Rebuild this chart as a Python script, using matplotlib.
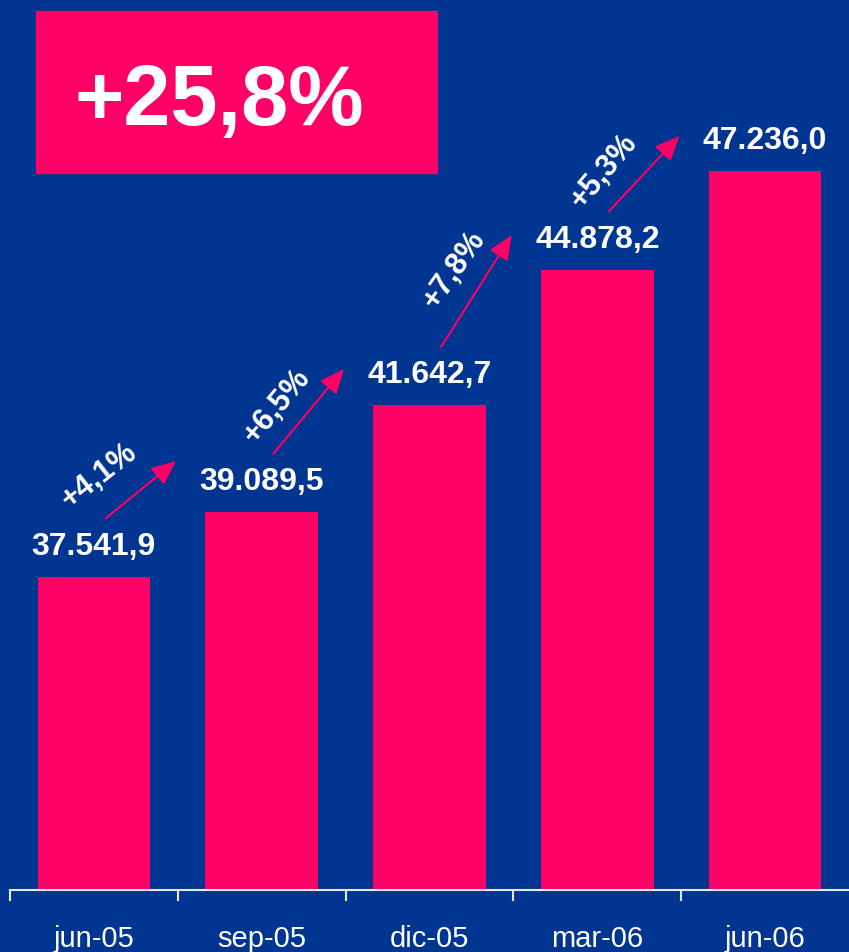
import matplotlib.pyplot as plt
from matplotlib.patches import Rectangle

# data
periods = ['jun-05', 'sep-05', 'dic-05', 'mar-06', 'jun-06']
values = [37541.9, 39089.5, 41642.7, 44878.2, 47236.0]
value_labels = ['37.541,9', '39.089,5', '41.642,7', '44.878,2', '47.236,0']
growth_labels = ['+4,1%', '+6,5%', '+7,8%', '+5,3%']
total_growth = '+25,8%'

bg = '#003591'
pink = '#ff0066'

plt.rcParams['font.family'] = ['Liberation Sans', 'DejaVu Sans']

fig = plt.figure(figsize=(8.49, 9.52), dpi=100, facecolor=bg)
ax = fig.add_axes([10 / 849, 62 / 952, 839 / 849, 890 / 952])
ax.set_facecolor(bg)

x = range(len(values))
ax.bar(x, values, width=0.67, color=pink, zorder=2)
ax.set_xlim(-0.5, 4.5)
ax.set_ylim(30070, 51320)

for i, (v, lab) in enumerate(zip(values, value_labels)):
    ax.annotate(lab, (i, v), xytext=(0, 11), textcoords='offset points',
                ha='center', va='bottom', color='white', fontsize=23,
                fontweight='bold')

# growth arrows between bars
tip_off = [1225, 870, 830, 840]
label_off = [(-30, 10), (-23, 4), (-16, 15), (-29, 2)]
label_rot = [38, 50, 55, 50]
for i, g in enumerate(growth_labels):
    x0, y0 = i + 0.07, values[i] + 1400
    x1, y1 = i + 0.49, values[i + 1] + tip_off[i]
    ax.annotate('', xy=(x1, y1), xytext=(x0, y0),
                arrowprops=dict(arrowstyle='-|>,head_length=1.5,head_width=0.65',
                                color=pink, lw=1.5, shrinkA=0, shrinkB=0))
    ax.annotate(g, ((x0 + x1) / 2, (y0 + y1) / 2), xytext=label_off[i],
                textcoords='offset points', ha='center', va='center',
                rotation=label_rot[i], rotation_mode='anchor',
                color='white', fontsize=22, fontweight='bold')

for s in ['top', 'right', 'left']:
    ax.spines[s].set_visible(False)
ax.spines['bottom'].set_color('#e8e8e8')
ax.spines['bottom'].set_linewidth(1.5)
ax.set_yticks([])
ax.set_xticks(list(x))
ax.set_xticklabels(periods, color='white', fontsize=21)
ax.tick_params(axis='x', which='major', length=0, pad=25)
ax.set_xticks([-0.5, 0.5, 1.5, 2.5, 3.5], minor=True)
ax.tick_params(axis='x', which='minor', length=8, width=1.5, color='#e8e8e8',
               direction='out')

# total growth box
fig.patches.append(Rectangle((36 / 849, 1 - 173 / 952), 401 / 849, 162 / 952,
                             transform=fig.transFigure, color=pink, zorder=1))
fig.text(74 / 849, 1 - 125 / 952, total_growth, color='white', fontsize=61,
         fontweight='bold', ha='left', va='baseline')

fig.savefig('out.png', dpi=100, facecolor=bg)
